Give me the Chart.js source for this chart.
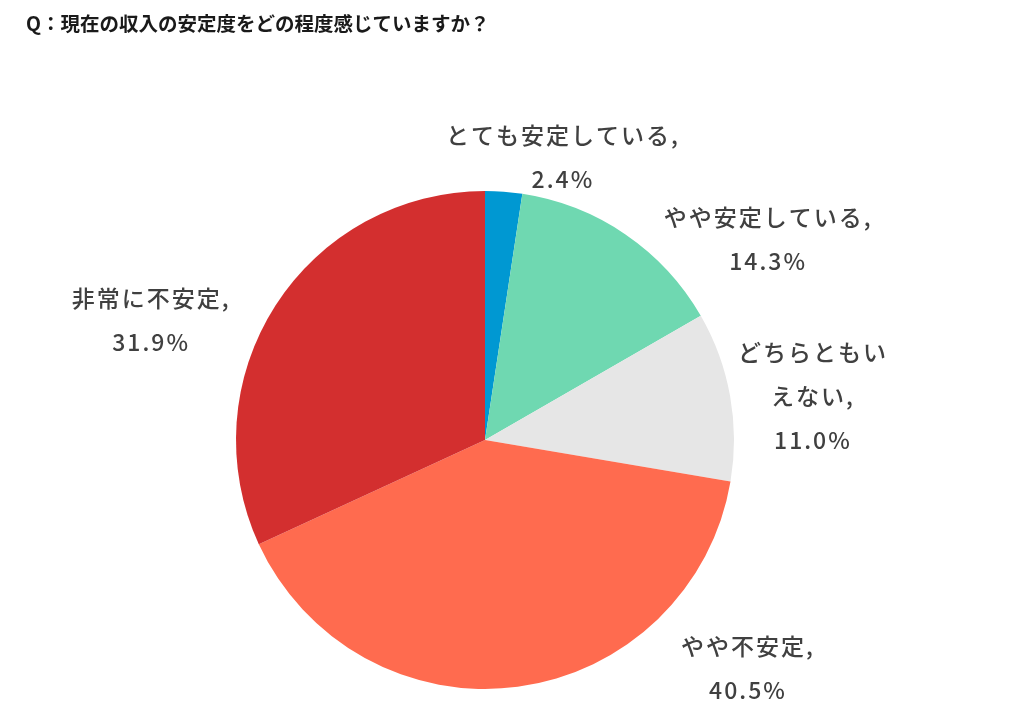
<!DOCTYPE html>
<html><head><meta charset="utf-8">
<script src="https://cdn.jsdelivr.net/npm/chart.js@4/dist/chart.umd.min.js"></script>
<style>html,body{margin:0;padding:0;background:#fff;}#wrap{position:relative;width:1024px;height:725px;}</style>
</head><body><div id="wrap"><canvas id="c" width="1024" height="725"></canvas></div>
<script>
const titleText = "Q：現在の収入の安定度をどの程度感じていますか？";
const categories = ["とても安定している","やや安定している","どちらともいえない","やや不安定","非常に不安定"];
const values = [2.4, 14.3, 11.0, 40.5, 31.9];
const labelLines = [["とても安定している,"],["やや安定している,"],["どちらともい","えない,"],["やや不安定,"],["非常に不安定,"]];
const colors = ["#0098d2","#6fd8b1","#e6e6e6","#ff6b4f","#d32f2f"];
// label anchor offsets from pie centre, in radius units
const labelAnchors = [[0.313,-1.135],[1.137,-0.805],[1.317,-0.177],[1.056,0.918],[-1.341,-0.482]];

const labelPlugin = {
  id:'labels',
  afterDraw(chart){
    const ctx = chart.ctx;
    ctx.save();
    ctx.fillStyle = "#1a1a1a";
    ctx.font = "bold 19.5px 'Noto Sans CJK JP'";
    ctx.textBaseline = "middle";
    ctx.textAlign = "left";
    ctx.fillText(titleText, 26, 24);
    const meta = chart.getDatasetMeta(0);
    ctx.font = "500 23px 'Noto Sans CJK JP'";
    ctx.fillStyle = "#404040";
    ctx.textAlign = "center";
    try { ctx.letterSpacing = "2px"; } catch(e){}
    meta.data.forEach((arc,i)=>{
      const r = arc.outerRadius, cx = arc.x, cy = arc.y;
      const ax = cx + labelAnchors[i][0]*r, ay = cy + labelAnchors[i][1]*r;
      const lines = labelLines[i].concat([values[i].toFixed(1)+"%"]);
      const lh = 44;
      const top = ay - (lines.length-1)*lh/2;
      lines.forEach((t,j)=>ctx.fillText(t, ax, top + j*lh));
    });
    ctx.restore();
  }
};

new Chart(document.getElementById('c'), {
  type:'pie',
  data:{labels:categories, datasets:[{data:values, backgroundColor:colors, borderWidth:0}]},
  options:{
    responsive:false, animation:false,
    layout:{padding:{left:236,right:290,top:191,bottom:36}},
    plugins:{legend:{display:false}, tooltip:{enabled:false}, title:{display:false}}
  },
  plugins:[labelPlugin]
});
</script></body></html>
